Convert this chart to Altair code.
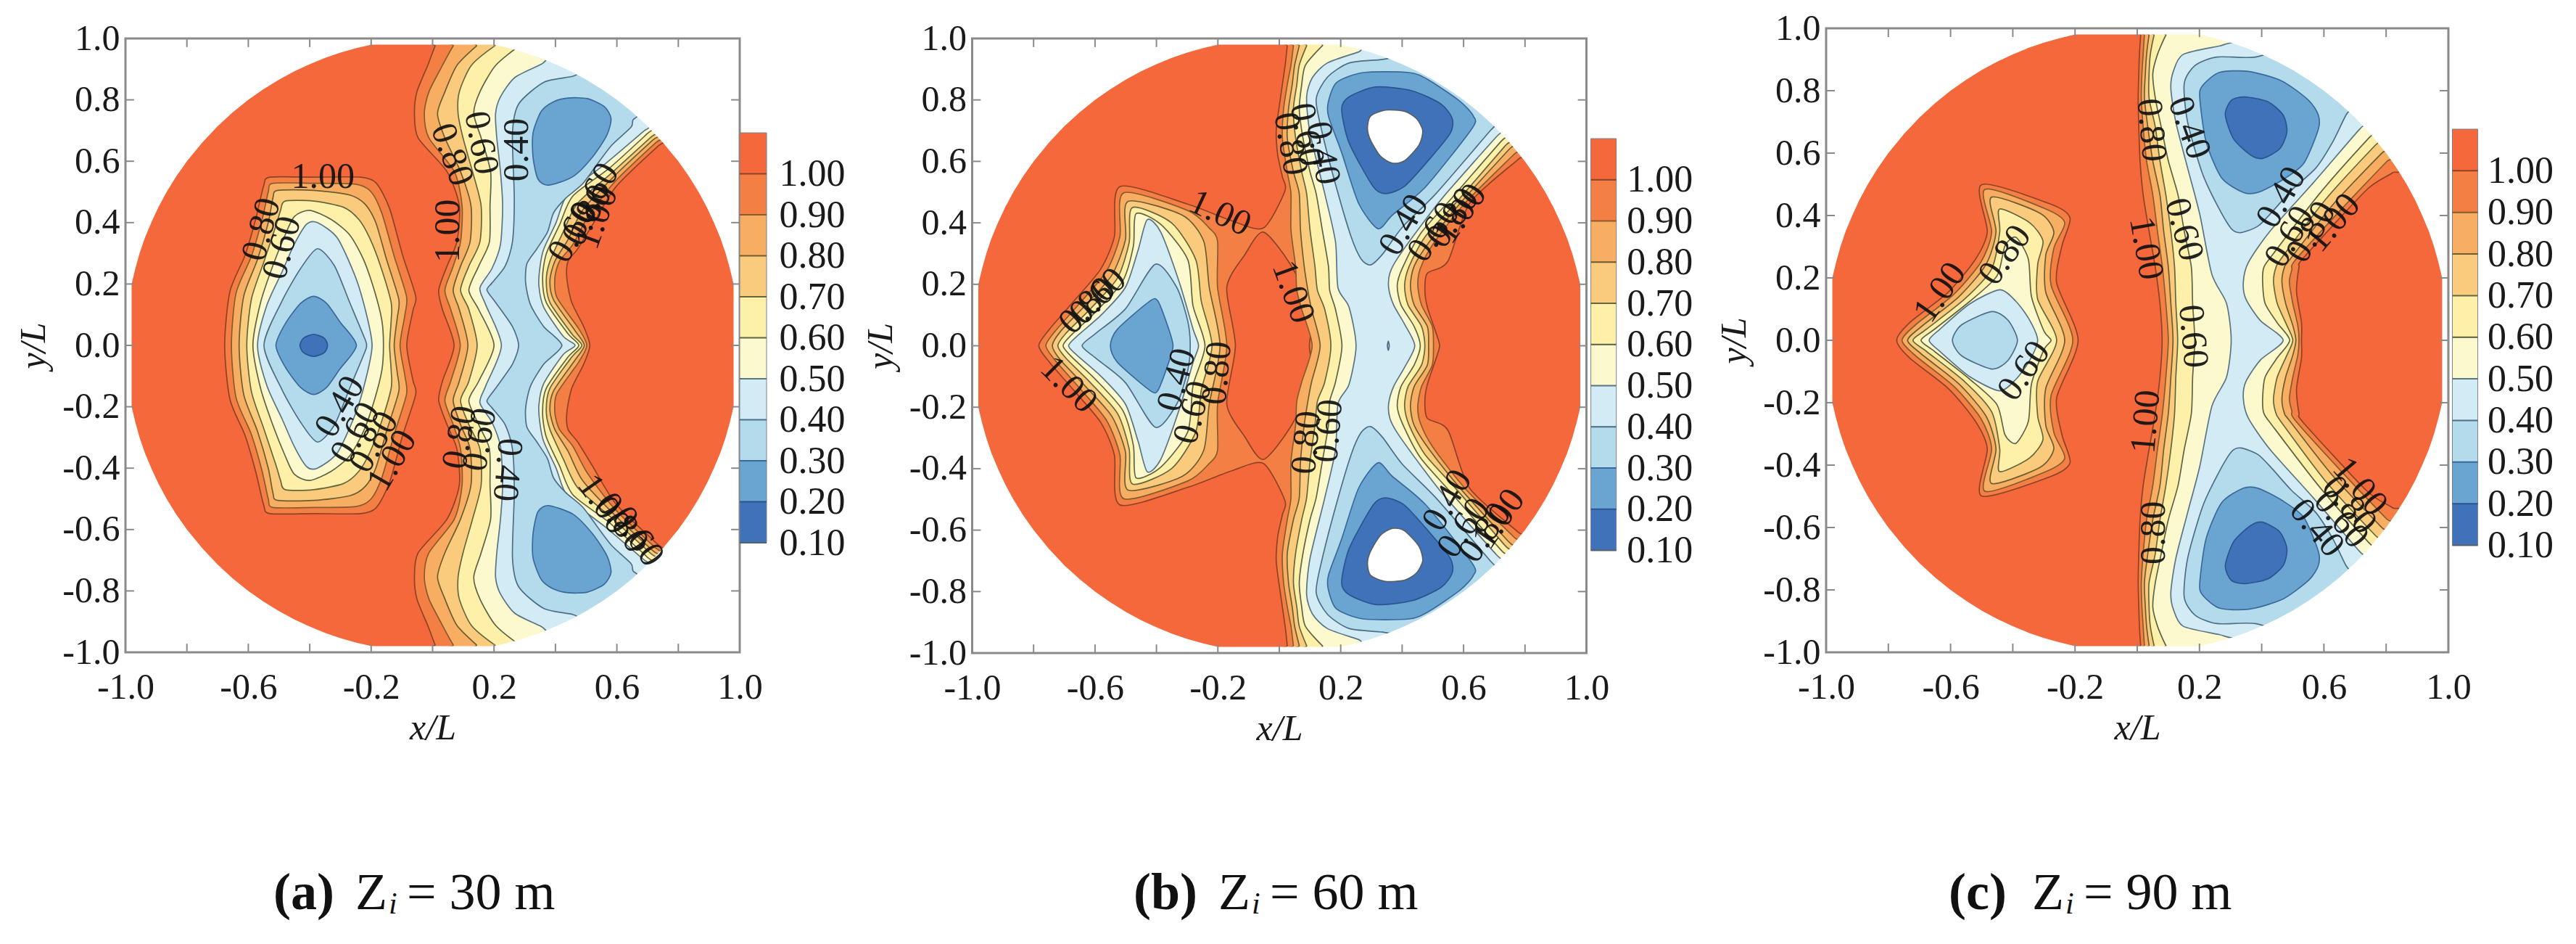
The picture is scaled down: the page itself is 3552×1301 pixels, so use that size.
import altair as alt

W, H = 3536, 1285
FONT = "Liberation Serif"

# ---- level colours -------------------------------------------------------
LEVELS = [0.1, 0.2, 0.3, 0.4, 0.5, 0.6, 0.7, 0.8, 0.9, 1.0]
BIN_COLORS = ["#3F72B8", "#6AA5D2", "#B4DBEB", "#D3EBF5", "#FBF9CD",
              "#FEF0A8", "#FBCB7D", "#F8AE62", "#F47F45", "#F4683C"]
LINE_COLORS = {1.0: "#8E4226", 0.9: "#8A5A2C", 0.8: "#6E5C30", 0.7: "#66663C", 0.6: "#5E6444",
               0.5: "#5A7484", 0.4: "#4C6E86", 0.3: "#3A6A9A", 0.2: "#2A5590", 0.1: "#55606A"}
FILL_OF = {1.0: "#F47F45", 0.9: "#F8AE62", 0.8: "#FBCB7D", 0.7: "#FEF0A8", 0.6: "#FBF9CD",
           0.5: "#D3EBF5", 0.4: "#B4DBEB", 0.3: "#6AA5D2", 0.2: "#3F72B8", 0.1: "#FFFFFF"}
TOP_COLOR = "#F4683C"
FRAME = "#8A8A8A"

# disc outline, first quadrant
OUTLINE_Q = [(.2,.98),(.25,.968),(.3,.954),(.35,.937),(.4,.916),(.45,.893),(.5,.866),(.55,.835),(.6,.8),(.65,.76),(.7,.714),
             (.75,.661),(.8,.6),(.835,.55),(.866,.5),(.893,.45),(.916,.4),(.937,.35),(.954,.3),(.968,.25),(.98,.2)]
TICKS = [-1.0, -.8, -.6, -.4, -.2, 0.0, .2, .4, .6, .8, 1.0]
BRIDGE = [(.92, .99)]

# ---- panel (a): left blob, upper half ------------------------------------
A_BLOB_100 = [(-.677,0),(-.66,.175),(-.61,.295),(-.575,.415),(-.55,.52),(-.53,.548),(-.387,.548),(-.234,.548),(-.183,.528),(-.14,.446),(-.098,.295),(-.055,.16),(-.064,.114),(-.084,0)]
A_BLOB_090 = [(-.655,0),(-.64,.17),(-.59,.29),(-.555,.41),(-.535,.5),(-.52,.528),(-.387,.528),(-.25,.525),(-.2,.5),(-.165,.43),(-.125,.29),(-.085,.16),(-.09,.1),(-.106,0)]
A_BLOB_080 = [(-.63,0),(-.615,.16),(-.57,.28),(-.535,.4),(-.52,.48),(-.505,.505),(-.387,.505),(-.27,.49),(-.22,.46),(-.185,.4),(-.15,.28),(-.11,.15),(-.115,.09),(-.125,0)]
A_BLOB_070 = [(-.605,0),(-.59,.15),(-.55,.27),(-.51,.39),(-.495,.44),(-.48,.47),(-.387,.47),(-.29,.45),(-.24,.41),(-.205,.35),(-.17,.26),(-.135,.14),(-.135,.08),(-.14,0)]
A_BLOB_060 = [(-.585,0),(-.56,.14),(-.52,.26),(-.48,.36),(-.45,.42),(-.4,.44),(-.33,.41),(-.27,.36),(-.225,.28),(-.19,.18),(-.165,.08),(-.16,0)]
A_BLOB_050 = [(-.57,0),(-.54,.13),(-.49,.24),(-.45,.33),(-.41,.395),(-.375,.40),(-.31,.35),(-.25,.22),(-.215,.1),(-.197,0)]
A_BLOB_040 = [(-.549,0),(-.49,.145),(-.43,.25),(-.375,.315),(-.32,.26),(-.27,.14),(-.22,.02),(-.215,0)]
A_BLOB_030 = [(-.51,0),(-.48,.07),(-.43,.137),(-.387,.16),(-.345,.137),(-.302,.077),(-.248,0)]
A_BLOB_020 = [(-.432,0),(-.42,.024),(-.387,.036),(-.353,.024),(-.342,0)]

# panel (a): right band, left edge by rows, right edge from the arm down
A_ROWS = [.995,.975,.912,.826,.755,.676,.566,.455,.337,.258,.18,.117,0]
A_LEFT_100 = [.02,.008,-.016,-.051,-.059,-.047,.047,.087,.079,.047,.02,.032,.07]
A_LEFT_090 = [.087,.067,.032,-.012,-.027,-.012,.071,.096,.091,.067,.04,.059,.09]
A_LEFT_080 = [.166,.142,.079,.04,.016,.04,.091,.125,.122,.091,.067,.087,.115]
A_LEFT_070 = [.244,.201,.126,.087,.083,.099,.13,.158,.154,.118,.091,.118,.145]
A_LEFT_060 = [.34,.283,.205,.154,.134,.158,.189,.187,.185,.15,.118,.15,.2]
A_LEFT_050 = [(.44,.96),(.354,.916),(.268,.873),(.221,.81),(.205,.755),(.209,.676),(.221,.566),(.228,.455),(.221,.329),(.193,.25),(.154,.187),(.173,.132),(.224,0)]
A_LEFT_040 = [(.52,.9),(.457,.877),(.362,.857),(.28,.786),(.26,.69),(.266,.479),(.26,.337),(.236,.258),(.193,.203),(.177,.18),(.205,.14),(.26,.061),(.28,0)]
A_RIGHT_100 = [(.785,.69),(.736,.651),(.598,.518),(.52,.392),(.472,.314),(.441,.274),(.437,.219),(.453,.14),(.492,.061),(.512,0)]
A_RIGHT_090 = [(.775,.70),(.726,.66),(.594,.534),(.504,.416),(.457,.329),(.413,.274),(.398,.219),(.405,.156),(.476,.054),(.502,0)]
A_RIGHT_080 = [(.765,.71),(.716,.668),(.59,.55),(.488,.44),(.441,.345),(.398,.274),(.382,.211),(.394,.148),(.465,.046),(.494,0)]
A_RIGHT_070 = [(.755,.72),(.708,.676),(.583,.562),(.472,.463),(.425,.369),(.382,.274),(.37,.211),(.382,.14),(.453,.038),(.486,0)]
A_RIGHT_060 = [(.74,.73),(.697,.688),(.575,.577),(.457,.487),(.413,.392),(.37,.298),(.358,.219),(.37,.14),(.441,.038),(.476,0)]
A_RIGHT_050 = [(.724,.731),(.685,.696),(.559,.589),(.441,.495),(.402,.4),(.362,.314),(.35,.258),(.346,.195),(.362,.124),(.425,.03),(.464,0)]
A_RIGHT_040 = [(.685,.763),(.653,.735),(.646,.711),(.583,.652),(.535,.589),(.488,.526),(.433,.479),(.394,.432),(.374,.369),(.339,.314),(.307,.266),(.303,.203),(.319,.132),(.362,.061),(.421,0)]
A_ISLAND_030 = [(.441,.806),(.504,.804),(.559,.778),(.581,.739),(.567,.684),(.52,.613),(.457,.55),(.378,.522),(.343,.542),(.327,.613),(.327,.692),(.354,.763),(.394,.794)]

A_LABELS = [("1.00",-.357,.548,0),("0.80",-.557,.378,285),("0.60",-.49,.318,285),("0.40",-.302,-.2,300),
            ("0.60",-.251,-.285,300),("0.80",-.191,-.315,300),("1.00",-.132,-.375,300),("0.80",.063,.621,70),
            ("0.60",.158,.66,80),("0.40",.276,.637,270),("1.00",.051,.373,270),("0.60",.457,.369,300),
            ("0.80",.504,.424,300),("1.00",.535,.416,290),("0.60",.527,.495,300),("0.80",.089,-.3,280),
            ("0.60",.154,-.307,280),("0.40",.243,-.405,95),("1.00",.557,-.518,55),("0.80",.617,-.578,55),("0.60",.668,-.623,55)]

# ---- panel (b) -----------------------------------------------------------
B_OUTER_100 = [(-.783,0),(-.748,.054),(-.669,.145),(-.581,.25),(-.537,.355),(-.519,.518),(-.299,.461),(-.158,.408),(-.052,.383),(.018,.503),(.01,.55),(-.005,.62),(-.01,.70),(0,.78),(.01,.85),(.02,.92),(.026,.976),(.03,.995),
               (.92,.99),(.809,.637),(.777,.606),(.62,.464),(.549,.275),(.482,.236),(.474,.181),(.482,.126),(.514,.031),(.522,0)]
B_LENS = [(-.143,0),(-.171,.19),(-.113,.295),(-.052,.37),(.036,.265),(.107,.114),(.098,0)]
B_BLOB_090 = [(-.76,0),(-.73,.047),(-.651,.137),(-.563,.242),(-.519,.355),(-.506,.498),(-.298,.44),(-.228,.383),(-.201,.34),(-.201,.19),(-.171,0)]
B_BLOB_080 = [(-.739,0),(-.712,.047),(-.633,.13),(-.545,.23),(-.501,.345),(-.492,.47),(-.316,.425),(-.246,.34),(-.228,.19),(-.193,0)]
B_BLOB_070 = [(-.721,0),(-.695,.04),(-.615,.12),(-.527,.22),(-.489,.335),(-.478,.45),(-.351,.40),(-.272,.28),(-.254,.145),(-.219,0)]
B_BLOB_060 = [(-.704,0),(-.677,.035),(-.598,.11),(-.51,.21),(-.475,.325),(-.466,.43),(-.386,.395),(-.298,.28),(-.281,.13),(-.242,0)]
B_BLOB_050 = [(-.686,0),(-.66,.03),(-.58,.1),(-.501,.19),(-.46,.31),(-.43,.41),(-.386,.37),(-.325,.205),(-.281,.055),(-.263,0)]
B_BLOB_040 = [(-.642,0),(-.598,.04),(-.501,.12),(-.404,.265),(-.334,.19),(-.298,.08),(-.29,0)]
B_BLOB_030 = [(-.55,0),(-.527,.054),(-.422,.145),(-.395,.145),(-.36,.054),(-.346,0)]

B_ROWS = [.995,.976,.913,.85,.771,.676,.566,.495,.377,.259,.181,.118,0]
B_LEFT_090 = [.05,.046,.038,.026,.014,.01,.026,.038,.038,.053,.057,.073,.107]
B_LEFT_080 = [.07,.065,.05,.042,.03,.026,.046,.065,.069,.081,.093,.105,.133]
B_LEFT_070 = [.1,.089,.065,.057,.046,.053,.073,.089,.1,.116,.124,.148,.168]
B_LEFT_060 = [.17,.14,.085,.073,.065,.077,.1,.12,.14,.16,.164,.183,.204]
B_LEFT_050 = [(.33,.98),(.258,.956),(.156,.92),(.108,.873),(.089,.81),(.1,.692),(.148,.495),(.183,.338),(.191,.189),(.227,.126),(.25,0)]
B_RIGHT_090 = [(.80,.66),(.762,.621),(.608,.468),(.50,.33),(.459,.251),(.451,.196),(.463,.133),(.498,.063),(.502,0)]
B_RIGHT_080 = [(.785,.68),(.746,.637),(.596,.472),(.49,.34),(.439,.259),(.427,.196),(.439,.133),(.482,.063),(.486,0)]
B_RIGHT_070 = [(.775,.69),(.734,.649),(.581,.472),(.475,.355),(.423,.259),(.408,.196),(.419,.133),(.463,.063),(.474,0)]
B_RIGHT_060 = [(.765,.705),(.722,.665),(.561,.48),(.46,.365),(.4,.251),(.384,.196),(.396,.133),(.439,.063),(.459,0)]
B_RIGHT_050 = [(.75,.72),(.707,.68),(.537,.488),(.463,.393),(.384,.283),(.36,.236),(.356,.189),(.372,.133),(.408,.07),(.441,0)]
B_ISLAND_040 = [(.8,.99),(.45,.95),(.337,.932),(.227,.92),(.156,.873),(.12,.802),(.14,.692),(.187,.511),(.234,.354),(.266,.283),(.297,.263),(.337,.299),(.4,.385),(.51,.495),(.687,.70),(.74,.76)]
B_ISLAND_030 = [(.423,.889),(.274,.889),(.187,.857),(.16,.795),(.16,.747),(.203,.629),(.258,.464),(.321,.381),(.368,.425),(.478,.519),(.628,.708),(.632,.747),(.589,.795),(.486,.865)]
B_ISLAND_020 = [(.313,.842),(.227,.81),(.203,.771),(.227,.661),(.305,.519),(.345,.495),(.408,.519),(.494,.613),(.557,.692),(.563,.739),(.526,.787),(.431,.83)]
B_HOLE_010 = [(.297,.747),(.345,.767),(.408,.763),(.447,.739),(.467,.7),(.455,.653),(.408,.602),(.368,.594),(.329,.617),(.297,.669),(.287,.708)]
B_SPECK = [(.352,0),(.355,.015),(.358,0)]

B_LABELS = [("1.00",-.193,.431,25),("1.00",.045,.175,70),("0.80",.036,.657,80),("0.60",.089,.687,80),("0.40",.142,.627,80),
            ("0.80",-.625,.13,315),("0.60",-.59,.16,315),("1.00",-.686,-.127,45),("0.40",-.334,-.111,285),("0.60",-.281,-.217,285),
            ("0.80",-.202,-.089,275),("0.40",.406,.393,300),("0.60",.503,.37,305),("0.80",.565,.416,305),("1.00",.59,.43,305),
            ("0.80",.089,-.315,275),("0.60",.16,-.277,275),("0.40",.547,-.503,300),("0.60",.6,-.593,305),("0.80",.67,-.608,305),("1.00",.715,-.563,305)]

# ---- panel (c) -----------------------------------------------------------
C_BLOB_100 = [(-.773,0),(-.73,.058),(-.608,.154),(-.521,.258),(-.482,.347),(-.5,.499),(-.277,.436),(-.216,.392),(-.242,.303),(-.259,.184),(-.19,0)]
C_BLOB_090 = [(-.756,0),(-.712,.05),(-.59,.147),(-.503,.25),(-.468,.347),(-.489,.484),(-.294,.421),(-.233,.377),(-.268,.295),(-.277,.177),(-.207,0)]
C_BLOB_080 = [(-.738,0),(-.695,.043),(-.573,.14),(-.486,.243),(-.454,.347),(-.468,.459),(-.312,.407),(-.268,.347),(-.294,.273),(-.294,.154),(-.233,0)]
C_BLOB_070 = [(-.721,0),(-.677,.036),(-.555,.132),(-.468,.229),(-.442,.347),(-.442,.421),(-.346,.377),(-.303,.318),(-.32,.243),(-.32,.132),(-.259,0)]
C_BLOB_060 = [(-.695,0),(-.651,.036),(-.538,.125),(-.451,.206),(-.425,.303),(-.39,.33),(-.35,.26),(-.34,.14),(-.3,.03),(-.277,0)]
C_BLOB_050 = [(-.669,0),(-.634,.036),(-.538,.117),(-.442,.162),(-.39,.125),(-.346,.065),(-.32,0)]
C_BLOB_040 = [(-.594,0),(-.564,.05),(-.468,.092),(-.416,.065),(-.385,0)]

C_ROWS = [.995,.978,.916,.854,.777,.684,.575,.466,.35,.234,.118,0]
C_LEFT_100 = [.013,.011,.007,.005,.003,.005,.009,.019,.038,.058,.073,.08]
C_LEFT_090 = [.026,.023,.019,.015,.013,.019,.03,.05,.065,.081,.092,.1]
C_LEFT_080 = [.042,.038,.03,.026,.023,.034,.05,.073,.085,.1,.108,.115]
C_LEFT_070 = [.06,.054,.042,.038,.038,.058,.073,.092,.108,.12,.124,.13]
C_LEFT_060 = [.11,.092,.065,.05,.058,.077,.1,.131,.151,.174,.178,.185]
C_LEFT_050 = [(.36,.96),(.263,.943),(.147,.916),(.116,.862),(.108,.807),(.124,.699),(.162,.552),(.201,.404),(.24,.211),(.287,.118),(.302,0)]
C_RIGHT_100 = [(.86,.575),(.819,.536),(.737,.482),(.535,.265),(.52,.234),(.512,.156),(.528,.056),(.528,0)]
C_RIGHT_090 = [(.84,.61),(.8,.571),(.656,.42),(.508,.257),(.497,.226),(.489,.187),(.5,.118),(.516,.048),(.52,0)]
C_RIGHT_080 = [(.825,.64),(.784,.598),(.629,.435),(.489,.257),(.473,.234),(.465,.187),(.477,.118),(.5,.048),(.51,0)]
C_RIGHT_070 = [(.81,.665),(.765,.625),(.605,.451),(.465,.265),(.446,.234),(.438,.187),(.45,.118),(.481,.048),(.5,0)]
C_RIGHT_060 = [(.79,.69),(.745,.649),(.586,.47),(.434,.273),(.407,.234),(.403,.187),(.411,.118),(.45,.056),(.49,0)]
C_RIGHT_050 = [(.76,.72),(.714,.676),(.566,.505),(.427,.35),(.357,.249),(.341,.187),(.349,.133),(.396,.063),(.469,0)]
C_ISLAND_040 = [(.75,.99),(.52,.95),(.38,.908),(.256,.908),(.186,.881),(.151,.823),(.162,.699),(.209,.536),(.256,.435),(.302,.358),(.333,.345),(.388,.366),(.434,.412),(.497,.482),(.574,.552),(.629,.637),(.671,.722),(.71,.78)]
C_ISLAND_030 = [(.357,.862),(.263,.858),(.209,.815),(.201,.777),(.221,.637),(.271,.521),(.341,.474),(.388,.474),(.465,.513),(.535,.567),(.582,.676),(.582,.722),(.551,.769),(.465,.831)]
C_ISLAND_020 = [(.345,.78),(.302,.769),(.283,.722),(.31,.645),(.364,.594),(.403,.583),(.458,.614),(.481,.668),(.469,.722),(.419,.765)]

C_LABELS = [("0.80",.045,.674,85),("0.40",.167,.681,70),("0.60",.15,.355,75),("1.00",.028,.295,80),("0.60",.179,.013,85),
            ("1.00",.028,-.261,275),("0.80",.054,-.617,270),("0.40",.463,.458,300),("0.60",.49,.332,300),("0.80",.559,.347,300),
            ("1.00",.629,.377,310),("1.00",-.634,.154,305),("0.80",-.425,.273,305),("0.60",-.364,-.098,305),("0.40",.577,-.602,50),
            ("1.00",.716,-.469,50),("0.80",.681,-.528,50),("0.60",.655,-.573,50)]

# ---- captions: text, left x, size, weight, style -------------------------
CAPTIONS = [("(a)",369,72,"bold","normal"),("Z",482,72,"normal","normal"),("i",528,42,"normal","italic"),("= 30 m",553,72,"normal","normal"),
            ("(b)",1555,72,"bold","normal"),("Z",1672,72,"normal","normal"),("i",1718,42,"normal","italic"),("= 60 m",1743,72,"normal","normal"),
            ("(c)",2679,72,"bold","normal"),("Z",2794,72,"normal","normal"),("i",2840,42,"normal","italic"),("= 90 m",2865,72,"normal","normal")]


# ---- helpers --------------------------------------------------------------
def band(rows, left_x, right):
    return list(reversed(list(zip(left_x, rows)))) + BRIDGE + right

def band2(left, right):
    return list(reversed(left)) + BRIDGE + right

def mirror(half):
    return half + [(x, -y) for x, y in reversed(half[1:-1])]

def flip(loop):
    return [(x, -y) for x, y in loop]

def values(loop):
    return [{"x": x, "y": y, "o": i} for i, (x, y) in enumerate(loop)]

def mask_loop():
    q1 = OUTLINE_Q
    inner = [(-.98, 0)] + [(-x, -y) for x, y in reversed(q1)] + [(x, -y) for x, y in q1] + \
            list(reversed(q1)) + [(-x, y) for x, y in q1] + [(-.98, 0)]
    M = 1.12
    return [(-M, 0), (-M, M), (M, M), (M, -M), (-M, -M), (-M, 0)] + inner


def panel(x0, x1, ybot, ytop, polys, labels):
    sx = alt.Scale(domain=[-1, 1], range=[x0, x1], nice=False, zero=False)
    sy = alt.Scale(domain=[-1, 1], range=[ybot, ytop], nice=False, zero=False)
    X = alt.X("x:Q", scale=sx)
    Y = alt.Y("y:Q", scale=sy)
    layers = []
    for loop, fill, stroke, interp in polys:
        kw = {"stroke": stroke, "strokeWidth": 1.7} if stroke else {"strokeWidth": 0}
        if interp == "cardinal-closed":
            kw["tension"] = 0.25
        layers.append(alt.Chart(alt.Data(values=values(loop))).mark_line(
            interpolate=interp, fill=fill, **kw).encode(x=X, y=Y, order=alt.Order("o:Q")))
    # labels
    lab = [{"t": t, "x": x, "y": y, "a": a} for t, x, y, a in labels]
    layers.append(alt.Chart(alt.Data(values=lab)).mark_text(
        font=FONT, fontSize=50, color="#111111", align="center", baseline="middle", opacity=0.92).encode(
        x=X, y=Y, text="t:N", angle=alt.Angle("a:Q", scale=None)))
    # inward ticks on the four sides
    tick = alt.Chart(alt.Data(values=[{"t": t} for t in TICKS]))
    TL = 0.028
    for yv, yv2 in [(-1.0, -1 + TL), (1.0, 1 - TL)]:
        layers.append(tick.mark_rule(color=FRAME, strokeWidth=2).encode(
            x=alt.X("t:Q", scale=sx),
            y=alt.Y(datum=yv, scale=sy), y2=alt.Y2(datum=yv2)))
    for xv, xv2 in [(-1.0, -1 + TL), (1.0, 1 - TL)]:
        layers.append(tick.mark_rule(color=FRAME, strokeWidth=2).encode(
            y=alt.Y("t:Q", scale=sy),
            x=alt.X(datum=xv, scale=sx), x2=alt.X2(datum=xv2)))
    # frame, carrying the axes
    minus = "replace(format(datum.value,'.1f'),'\u2212','-')"
    xaxis = alt.Axis(orient="bottom", offset=-(H - ybot), values=TICKS, ticks=False, domain=False, grid=False,
                     labelFont=FONT, labelFontSize=50, labelColor="#1a1a1a", labelPadding=23,
                     labelExpr="abs(round(datum.value*10))%4==2 ? " + minus + " : ''",
                     labelOverlap=False, labelBound=False, labelFlush=False,
                     title="x/L", titleFont=FONT, titleFontSize=50, titleFontStyle="italic", titleFontWeight="normal",
                     titleColor="#1a1a1a", titlePadding=6, zindex=1)
    yaxis = alt.Axis(orient="left", offset=-x0, values=TICKS, ticks=False, domain=False, grid=False,
                     labelFont=FONT, labelFontSize=50, labelColor="#1a1a1a", labelPadding=8,
                     labelExpr=minus, labelOverlap=False, labelBound=False, labelFlush=False,
                     title="y/L", titleFont=FONT, titleFontSize=50, titleFontStyle="italic", titleFontWeight="normal",
                     titleColor="#1a1a1a", titlePadding=14, zindex=1)
    layers.append(alt.Chart(alt.Data(values=[{"a": 1}])).mark_rect(
        filled=False, stroke=FRAME, strokeWidth=3).encode(
        x=alt.X(datum=-1.0, scale=sx, axis=xaxis), x2=alt.X2(datum=1.0),
        y=alt.Y(datum=-1.0, scale=sy, axis=yaxis), y2=alt.Y2(datum=1.0)))
    return alt.layer(*layers)


def colorbar(x0, x1, ybot, ytop, pad):
    rows = [{"lo": l, "hi": round(l + .1, 1), "c": c, "s": LINE_COLORS[l]} for l, c in zip(LEVELS, BIN_COLORS)]
    sy = alt.Scale(domain=[.1, 1.1], range=[ybot, ytop], nice=False, zero=False)
    sx = alt.Scale(domain=[0, 1], range=[x0, x1], nice=False, zero=False)
    yaxis = alt.Axis(orient="right", offset=-(W - x1), values=LEVELS, ticks=False, domain=False, grid=False,
                     format=".2f", labelFont=FONT, labelFontSize=52, labelColor="#1a1a1a", labelPadding=pad,
                     labelOverlap=False, labelBound=False, labelFlush=False, title=None, zindex=1)
    base = alt.Chart(alt.Data(values=rows))
    rect = base.mark_rect(stroke="#7a8088", strokeWidth=1).encode(
        x=alt.X(datum=0, scale=sx, axis=None), x2=alt.X2(datum=1),
        y=alt.Y("lo:Q", scale=sy, axis=yaxis), y2="hi:Q",
        fill=alt.Fill("c:N", scale=None))
    line = base.mark_rule(strokeWidth=2).encode(
        x=alt.X(datum=0, scale=sx, axis=None), x2=alt.X2(datum=1),
        y=alt.Y("lo:Q", scale=sy),
        stroke=alt.Stroke("s:N", scale=None))
    return alt.layer(rect, line)


def L(loop, level, interp="cardinal-closed"):
    return (loop, FILL_OF[level], LINE_COLORS[level], interp)


SQUARE = [(-1, -1), (-1, 1), (1, 1), (1, -1)]
BASE = (SQUARE, TOP_COLOR, None, "linear-closed")
MASK = (mask_loop(), "#FFFFFF", None, "linear-closed")

polys_a = [BASE]
for lv, blob, lx, rx in [(1.0, A_BLOB_100, A_LEFT_100, A_RIGHT_100), (.9, A_BLOB_090, A_LEFT_090, A_RIGHT_090),
                         (.8, A_BLOB_080, A_LEFT_080, A_RIGHT_080), (.7, A_BLOB_070, A_LEFT_070, A_RIGHT_070),
                         (.6, A_BLOB_060, A_LEFT_060, A_RIGHT_060)]:
    polys_a += [L(mirror(blob), lv), L(mirror(band(A_ROWS, lx, rx)), lv)]
polys_a += [L(mirror(A_BLOB_050), .5), L(mirror(band2(A_LEFT_050, A_RIGHT_050)), .5),
            L(mirror(A_BLOB_040), .4), L(mirror(band2(A_LEFT_040, A_RIGHT_040)), .4),
            L(mirror(A_BLOB_030), .3), L(A_ISLAND_030, .3), L(flip(A_ISLAND_030), .3),
            L(mirror(A_BLOB_020), .2), MASK]

polys_b = [BASE, L(mirror(B_OUTER_100), 1.0), (mirror(B_LENS), TOP_COLOR, LINE_COLORS[1.0], "cardinal-closed")]
for lv, blob, lx, rx in [(.9, B_BLOB_090, B_LEFT_090, B_RIGHT_090), (.8, B_BLOB_080, B_LEFT_080, B_RIGHT_080),
                         (.7, B_BLOB_070, B_LEFT_070, B_RIGHT_070), (.6, B_BLOB_060, B_LEFT_060, B_RIGHT_060)]:
    polys_b += [L(mirror(blob), lv), L(mirror(band(B_ROWS, lx, rx)), lv)]
polys_b += [L(mirror(B_BLOB_050), .5), L(mirror(band2(B_LEFT_050, B_RIGHT_050)), .5),
            L(mirror(B_BLOB_040), .4), L(B_ISLAND_040, .4), L(flip(B_ISLAND_040), .4), L(mirror(B_SPECK), .4),
            L(mirror(B_BLOB_030), .3), L(B_ISLAND_030, .3), L(flip(B_ISLAND_030), .3),
            L(B_ISLAND_020, .2), L(flip(B_ISLAND_020), .2),
            L(B_HOLE_010, .1), L(flip(B_HOLE_010), .1), MASK]

polys_c = [BASE]
for lv, blob, lx, rx in [(1.0, C_BLOB_100, C_LEFT_100, C_RIGHT_100), (.9, C_BLOB_090, C_LEFT_090, C_RIGHT_090),
                         (.8, C_BLOB_080, C_LEFT_080, C_RIGHT_080), (.7, C_BLOB_070, C_LEFT_070, C_RIGHT_070),
                         (.6, C_BLOB_060, C_LEFT_060, C_RIGHT_060)]:
    polys_c += [L(mirror(blob), lv), L(mirror(band(C_ROWS, lx, rx)), lv)]
polys_c += [L(mirror(C_BLOB_050), .5), L(mirror(band2(C_LEFT_050, C_RIGHT_050)), .5),
            L(mirror(C_BLOB_040), .4), L(C_ISLAND_040, .4), L(flip(C_ISLAND_040), .4),
            L(C_ISLAND_030, .3), L(flip(C_ISLAND_030), .3),
            L(C_ISLAND_020, .2), L(flip(C_ISLAND_020), .2), MASK]

cap_layers = []
for t, cx, fs, wt, st in CAPTIONS:
    cap_layers.append(alt.Chart(alt.Data(values=[{"t": t}])).mark_text(
        font=FONT, fontSize=fs, fontWeight=wt, fontStyle=st, color="#111111", align="left", baseline="alphabetic").encode(
        text="t:N", x=alt.value(cx), y=alt.value(1245 + (6 if t == "i" else 0))))

chart = alt.layer(
    panel(165, 1012, 891, 45, polys_a, A_LABELS),
    panel(1332.5, 2179.5, 892, 45, polys_b, B_LABELS),
    panel(2510, 3368, 891, 31, polys_c, C_LABELS),
    colorbar(1012, 1049, 740, 175, 17),
    colorbar(2185.6, 2220.7, 750.5, 183, 14),
    colorbar(3373.5, 3408.6, 743.5, 170, 13),
    *cap_layers,
).resolve_scale(x="independent", y="independent").properties(
    width=W, height=H, padding=0, autosize=alt.AutoSizeParams(type="none"),
    background="#FFFFFF",
).configure_view(stroke=None)

chart.save("out.html", embed_options={"renderer": "svg", "actions": False})
